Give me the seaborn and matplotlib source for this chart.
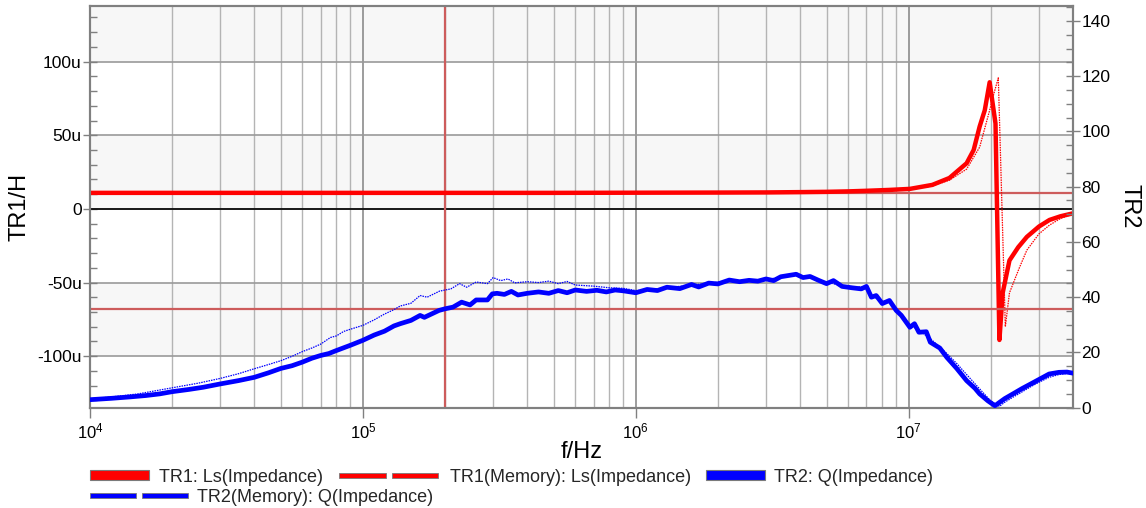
import numpy as np
import matplotlib
matplotlib.use("Agg")
import matplotlib.pyplot as plt
import seaborn as sns
from matplotlib.ticker import MultipleLocator, FuncFormatter, LogLocator, NullFormatter
from matplotlib.patches import Rectangle

# ---------------- measurement data ----------------
# TR1: series inductance Ls (µH) vs frequency (Hz)
ls_freq = [1e4, 3e4, 1e5, 2e5, 5e5, 1e6, 2e6, 3e6, 4e6, 5e6, 6e6, 7e6, 8.5e6,
           1.01e7, 1.22e7, 1.41e7, 1.63e7, 1.73e7, 1.82e7, 1.90e7, 1.98e7,
           2.08e7, 2.15e7, 2.21e7, 2.34e7, 2.52e7, 2.71e7, 3.0e7, 3.28e7, 3.6e7, 4.0e7]
ls_uH = [10.9, 10.9, 10.9, 10.9, 10.9, 11.0, 11.1, 11.2, 11.4, 11.6, 11.9, 12.3, 12.9,
         13.6, 16.3, 21.0, 31.0, 40.0, 56.0, 67.0, 86.0,
         58.0, -89.0, -57.0, -35.0, -26.0, -19.0, -12.0, -7.5, -5.0, -3.0]

# TR1 memory trace
ls_mem_freq = [1e4, 1e5, 1e6, 3e6, 5e6, 7e6, 1.01e7, 1.22e7, 1.41e7, 1.63e7, 1.82e7,
               1.98e7, 2.05e7, 2.13e7, 2.26e7, 2.34e7, 2.55e7, 2.71e7, 3.0e7, 3.28e7,
               3.6e7, 4.0e7]
ls_mem_uH = [10.9, 10.9, 11.0, 11.2, 11.5, 12.2, 13.4, 15.5, 19.5, 27.0, 42.0,
             67.0, 78.0, 89.0, -80.0, -57.0, -39.5, -28.0, -17.0, -11.0,
             -6.5, -3.5]

# TR2: quality factor Q vs frequency (Hz)
q_freq = [1.0e4, 1.2e4, 1.4e4, 1.6e4, 1.8e4, 2.0e4, 2.3e4, 2.6e4, 3.0e4, 3.5e4,
          4.0e4, 4.5e4, 5.0e4, 5.5e4, 6.0e4, 6.5e4, 7.0e4, 7.5e4, 8.0e4, 9.0e4,
          1.0e5, 1.1e5, 1.2e5, 1.3e5, 1.37e5, 1.5e5, 1.62e5, 1.68e5, 1.9e5, 2.0e5,
          2.14e5, 2.3e5, 2.47e5, 2.6e5, 2.86e5, 2.98e5, 3.1e5, 3.3e5, 3.5e5, 3.7e5,
          4.0e5, 4.4e5, 4.8e5, 5.2e5, 5.6e5, 6.0e5, 6.6e5, 7.2e5, 7.8e5, 8.4e5,
          9.0e5, 1.0e6, 1.1e6, 1.2e6, 1.3e6, 1.45e6, 1.6e6, 1.7e6, 1.85e6, 2.0e6,
          2.2e6, 2.4e6, 2.6e6, 2.8e6, 3.0e6, 3.2e6, 3.4e6, 3.87e6, 4.1e6, 4.35e6,
          4.7e6, 5.0e6, 5.3e6, 5.7e6, 6.2e6, 6.7e6, 7.0e6, 7.3e6, 7.6e6, 8.0e6,
          8.5e6, 9.0e6, 9.4e6, 1.01e7, 1.05e7, 1.09e7, 1.16e7, 1.2e7, 1.3e7, 1.38e7,
          1.5e7, 1.63e7, 1.75e7, 1.82e7, 1.95e7, 2.07e7, 2.15e7, 2.25e7, 2.41e7, 2.6e7,
          2.8e7, 3.0e7, 3.27e7, 3.55e7, 3.8e7, 4.0e7]
q_val = [2.9, 3.4, 3.9, 4.4, 5.0, 5.8, 6.6, 7.4, 8.6, 9.8,
         11.0, 12.6, 14.2, 15.2, 16.5, 17.9, 18.9, 19.6, 20.7, 22.6,
         24.4, 26.3, 27.7, 29.6, 30.4, 31.6, 33.4, 32.7, 35.2, 35.8,
         36.4, 38.2, 37.2, 39.0, 39.0, 41.2, 41.4, 41.0, 42.1, 40.8,
         41.4, 41.9, 41.4, 42.4, 41.6, 42.6, 42.1, 42.5, 41.9, 42.6,
         42.3, 41.6, 42.8, 42.4, 43.6, 43.1, 44.6, 43.7, 45.1, 44.8,
         46.2, 45.6, 46.1, 45.8, 46.6, 46.0, 47.4, 48.3, 47.1, 47.5,
         46.0, 44.9, 46.0, 43.9, 43.4, 43.0, 43.9, 40.0, 40.6, 37.7,
         38.8, 35.2, 33.4, 29.1, 30.4, 27.3, 27.5, 23.7, 21.6, 18.2,
         14.2, 9.8, 7.0, 5.0, 2.5, 0.7, 1.9, 3.3, 5.0, 6.9,
         8.6, 10.2, 12.2, 12.8, 12.9, 12.5]

# TR2 memory trace
q_mem_freq = [1.0e4, 1.2e4, 1.5e4, 2.0e4, 2.5e4, 3.0e4, 3.5e4, 4.0e4, 4.5e4, 5.0e4,
              5.5e4, 6.0e4, 6.5e4, 7.0e4, 7.6e4, 8.0e4, 8.5e4, 9.0e4, 1.0e5, 1.1e5,
              1.2e5, 1.3e5, 1.37e5, 1.5e5, 1.62e5, 1.72e5, 1.91e5, 2.1e5, 2.26e5, 2.4e5,
              2.6e5, 2.86e5, 3.0e5, 3.2e5, 3.4e5, 3.6e5, 4.0e5, 4.4e5, 4.8e5, 5.2e5,
              5.6e5, 6.0e5, 7.0e5, 8.0e5, 9.0e5, 1.0e6, 1.1e6, 1.3e6, 1.6e6, 1.85e6,
              2.2e6, 2.6e6, 3.0e6, 3.4e6, 3.87e6, 4.35e6, 5.0e6, 5.7e6, 6.2e6, 7.0e6,
              7.3e6, 8.0e6, 8.5e6, 9.0e6, 9.4e6, 1.01e7, 1.09e7, 1.2e7, 1.38e7, 1.5e7,
              1.63e7, 1.82e7, 2.0e7, 2.15e7, 2.25e7, 2.41e7, 2.6e7, 2.8e7, 3.0e7, 3.27e7,
              3.55e7, 3.8e7, 4.0e7]
q_mem_val = [3.2, 3.9, 5.0, 7.2, 8.9, 10.6, 12.3, 14.1, 15.6, 17.0,
             18.6, 20.3, 21.6, 23.0, 25.4, 26.0, 27.6, 28.4, 29.8, 31.8,
             33.9, 35.5, 36.8, 37.8, 40.6, 40.0, 42.2, 43.0, 44.9, 43.6,
             45.5, 44.9, 47.1, 46.0, 46.6, 45.2, 45.6, 45.3, 45.8, 44.9,
             45.7, 44.4, 44.0, 43.4, 43.2, 42.4, 42.6, 43.4, 44.4, 45.0,
             46.0, 46.0, 46.4, 47.2, 48.0, 47.2, 45.4, 44.2, 43.8, 43.6,
             40.6, 38.4, 39.0, 35.8, 34.0, 30.0, 28.0, 25.0, 19.6, 16.0,
             12.0, 6.8, 2.4, 0.5, 2.0, 3.8, 5.7, 7.6, 9.2, 11.0,
             12.0, 12.4, 12.2]

# Cursor position (Hz)
cursor_freq = 2e5

legend_labels = ["TR1: Ls(Impedance)", "TR1(Memory): Ls(Impedance)",
                 "TR2: Q(Impedance)", "TR2(Memory): Q(Impedance)"]

# ---------------- styling ----------------
sns.set_theme(style="white")
plt.rcParams["font.family"] = ["Liberation Sans", "DejaVu Sans"]
plt.rcParams["mathtext.default"] = "regular"

RED = "#ff0000"
BLUE = "#0000ff"
MARKER = "#cd5c5c"
SPINE = "#808080"

W, H = 1146, 508
fig = plt.figure(figsize=(W / 100, H / 100), dpi=100)
ax = fig.add_axes([90 / W, 1 - 407.7 / H, 983 / W, 402 / H])
ax.set_facecolor("white")
ax2 = ax.twinx()

ax.set_xscale("log")
ax.set_xlim(1e4, 4e7)
ax.set_ylim(-135, 138)
ax2.set_ylim(0, 145.5)

# alternating background bands between the 50u gridlines
for lo, hi in [(100, 138), (0, 50), (-100, -50)]:
    ax.axhspan(lo, hi, color="#f7f7f7", zorder=0.1, lw=0)

ax.set_axisbelow(True)
ax.grid(True, which="minor", axis="x", color="#b4b4b4", lw=1.0)
ax.grid(True, which="major", axis="x", color="#8c8c8c", lw=1.2)
ax.grid(True, which="major", axis="y", color="#9a9a9a", lw=1.2)
ax.axhline(0, color="black", lw=1.2, zorder=0.8)

# cursor lines at the marker frequency
ci = q_freq.index(cursor_freq)
li = ls_freq.index(cursor_freq)
ax.axvline(cursor_freq, color=MARKER, lw=1.6, zorder=2.5)
ax.axhline(ls_uH[li], color=MARKER, lw=1.6, zorder=2.5)
ax2.axhline(q_val[ci], color=MARKER, lw=1.6, zorder=2)

# TR1 traces on the left axis
sns.lineplot(x=ls_freq, y=ls_uH, ax=ax, color=RED, lw=3.2, estimator=None,
             sort=False, zorder=3)
sns.lineplot(x=ls_mem_freq, y=ls_mem_uH, ax=ax, color=RED, lw=0.9,
             linestyle=(0, (1.2, 0.8)), estimator=None, sort=False, zorder=4)

# TR2 traces on the right axis
sns.lineplot(x=q_freq, y=q_val, ax=ax2, color=BLUE, lw=3.4, estimator=None,
             sort=False, zorder=3)
sns.lineplot(x=q_mem_freq, y=q_mem_val, ax=ax2, color=BLUE, lw=0.9,
             linestyle=(0, (1.2, 0.8)), estimator=None, sort=False, zorder=4)

# ---------------- axes, ticks ----------------
ax.xaxis.set_major_locator(LogLocator(base=10))
ax.xaxis.set_minor_locator(LogLocator(base=10, subs=np.arange(2, 10)))
ax.xaxis.set_minor_formatter(NullFormatter())
ax.xaxis.set_major_formatter(FuncFormatter(
    lambda v, p: r"$\mathregular{10^{%d}}$" % int(round(np.log10(v)))))

ax.yaxis.set_major_locator(MultipleLocator(50))
ax.yaxis.set_minor_locator(MultipleLocator(10))
ax.yaxis.set_major_formatter(FuncFormatter(
    lambda v, p: "0" if abs(v) < 1e-9 else f"{v:.0f}u"))

ax2.yaxis.set_major_locator(MultipleLocator(20))
ax2.yaxis.set_minor_locator(MultipleLocator(5))
ax2.yaxis.set_major_formatter(FuncFormatter(lambda v, p: f"{v:.0f}"))

ax.tick_params(axis="x", which="major", direction="out", length=7, width=1,
               color=SPINE, labelsize=12, pad=3, labelcolor="black",
               bottom=True)
ax.tick_params(axis="x", which="minor", length=0)
ax.tick_params(axis="y", which="major", direction="inout", length=10, width=1,
               color=SPINE, labelsize=12.5, pad=1, labelcolor="black", left=True)
ax.tick_params(axis="y", which="minor", direction="in", length=5, width=1,
               color=SPINE, left=True)
ax2.tick_params(axis="y", which="major", direction="inout", length=10, width=1,
                color=SPINE, labelsize=12.5, pad=1, labelcolor="black", right=True)
ax2.tick_params(axis="y", which="minor", direction="in", length=5, width=1,
                color=SPINE, right=True)

for a in (ax, ax2):
    for s in a.spines.values():
        s.set_color(SPINE)
        s.set_linewidth(1.5)

ax.set_xlabel("f/Hz", fontsize=17, color="black")
ax.xaxis.label.set_va("baseline")
ax.xaxis.set_label_coords(0.5, (407.7 - 458) / 402)

ax.set_ylabel("TR1/H", fontsize=17, color="black", ha="center", va="center")
ax.yaxis.set_label_coords((20 - 90) / 983, 0.5)

ax2.set_ylabel("TR2", fontsize=17, color="black", rotation=270,
               ha="center", va="center")
ax2.yaxis.set_label_coords((1129 - 90) / 983, 0.5)

# ---------------- legend below the plot ----------------
def fx(x):
    return x / W

def fy(y):
    return 1 - y / H

def solid_key(x0, x1, yc, color):
    fig.patches.append(Rectangle((fx(x0), fy(yc + 5)), fx(x1 - x0), 10 / H,
                                 transform=fig.transFigure, facecolor=color,
                                 edgecolor="#7a7a7a", lw=0.8))

def dashed_key(x0, x1, yc, color):
    seg = (x1 - x0 - 6) / 2
    for s in (x0, x0 + seg + 6):
        fig.patches.append(Rectangle((fx(s), fy(yc + 2.5)), fx(seg), 5 / H,
                                     transform=fig.transFigure, facecolor=color,
                                     edgecolor="#7a7a7a", lw=0.6))

row1, row2 = 475, 495
LFS = 13
solid_key(90, 149, row1, RED)
fig.text(fx(159), fy(row1 + 6.5), legend_labels[0], fontsize=LFS, va="baseline")
dashed_key(339, 438, row1, RED)
fig.text(fx(450), fy(row1 + 6.5), legend_labels[1], fontsize=LFS, va="baseline")
solid_key(706, 765, row1, BLUE)
fig.text(fx(774), fy(row1 + 6.5), legend_labels[2], fontsize=LFS, va="baseline")
dashed_key(90, 188, row2, BLUE)
fig.text(fx(197), fy(row2 + 6.5), legend_labels[3], fontsize=LFS, va="baseline")

fig.savefig("out.png", dpi=100, facecolor="white")
